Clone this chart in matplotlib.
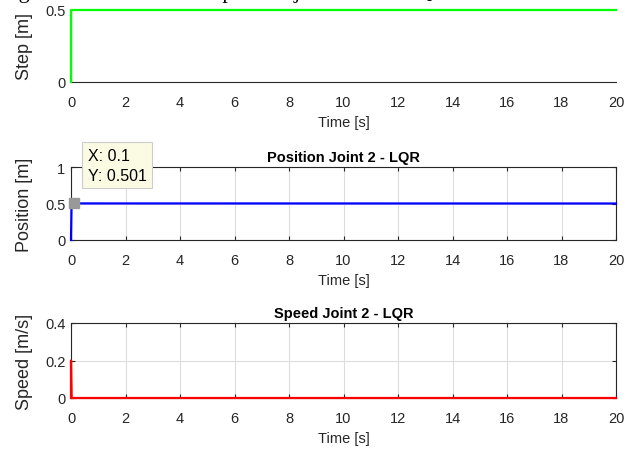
import numpy as np
import matplotlib.pyplot as plt

plt.rcParams['font.family'] = ['Liberation Sans', 'DejaVu Sans']

# data
t_step = [0, 0, 20]
step = [0, 0.5, 0.5]

t_pos = [0, 0.02, 0.1, 20]
pos = [0, 0.5, 0.501, 0.5]

t_spd = [0, 0, 0.02, 20]
spd = [0, 0.2, 0, 0]

xticks = np.arange(0, 21, 2)

W, H = 625, 456
fig = plt.figure(figsize=(W / 100, H / 100), dpi=100)

axc = '#262626'
fs = 10.5
yfs = 13   # the reference is stretched vertically, so rotated labels come out longer


def style(ax, box=True):
    for s in ax.spines.values():
        s.set_color(axc)
        s.set_linewidth(0.8)
    ax.tick_params(direction='in', colors=axc, labelsize=fs, length=3,
                   top=box, right=box)
    ax.tick_params(axis='x', pad=9.5)
    ax.tick_params(axis='y', pad=4)
    ax.set_xlim(0, 20)
    ax.set_xticks(xticks)
    ax.set_xlabel('Time [s]', fontsize=fs, color=axc, labelpad=4)


# top: step
ax1 = fig.add_axes([71 / W, 1 - 83 / H, 545 / W, 72 / H])
ax1.plot(t_step, step, color=(0, 1, 0), lw=1.6, clip_on=False, zorder=3)
ax1.set_ylim(0, 0.5)
ax1.set_yticks([0, 0.5])
ax1.set_yticklabels(['0', '0.5'])
ax1.spines['top'].set_visible(False)
ax1.spines['right'].set_visible(False)
style(ax1, box=False)
ax1.tick_params(length=0)
ax1.set_ylabel('Step [m]', fontsize=yfs, color=axc, labelpad=9)

# middle: position
ax2 = fig.add_axes([71 / W, 1 - 241 / H, 545 / W, 73 / H])
ax2.plot(t_pos, pos, color=(0, 0, 1), lw=1.6, clip_on=False, zorder=3)
ax2.set_ylim(0, 1)
ax2.set_yticks([0, 0.5, 1])
ax2.set_yticklabels(['0', '0.5', '1'])
ax2.grid(True, color='#dddddd', lw=0.8)
style(ax2)
ax2.set_ylabel('Position [m]', fontsize=yfs, color=axc, labelpad=9)
ax2.set_title('Position Joint 2 - LQR', fontsize=fs, fontweight='bold',
              color='black', pad=4)
# data tip
ax2.plot([t_pos[2]], [pos[2]], 's', color='#999999', ms=7, zorder=5,
         clip_on=False)
ax2.annotate('X: 0.1\nY: 0.501', xy=(t_pos[2], pos[2]), xytext=(10, 15),
             textcoords='offset points', fontsize=11.5, color='black',
             va='bottom', ha='left', linespacing=1.4, zorder=6,
             annotation_clip=False,
             bbox=dict(boxstyle='square,pad=0.35', fc='#fbfbe4',
                       ec='#cccccc', lw=0.8))

# bottom: speed
ax3 = fig.add_axes([71 / W, 1 - 399 / H, 545 / W, 75 / H])
ax3.plot(t_spd, spd, color=(1, 0, 0), lw=1.6, clip_on=False, zorder=3)
ax3.set_ylim(0, 0.4)
ax3.set_yticks([0, 0.2, 0.4])
ax3.set_yticklabels(['0', '0.2', '0.4'])
ax3.grid(True, color='#dddddd', lw=0.8)
style(ax3)
ax3.set_ylabel('Speed [m/s]', fontsize=yfs, color=axc, labelpad=9)
ax3.set_title('Speed Joint 2 - LQR', fontsize=fs, fontweight='bold',
              color='black', pad=4)

# caption of the document, cut off at the top edge
fig.text(0.0, 1 + 1.5 / H, 'Figure 12: Position and speed of joint 2 with LQR controller',
         family='Liberation Serif', fontsize=16, va='baseline', ha='left')

fig.savefig('out.png', dpi=100)
